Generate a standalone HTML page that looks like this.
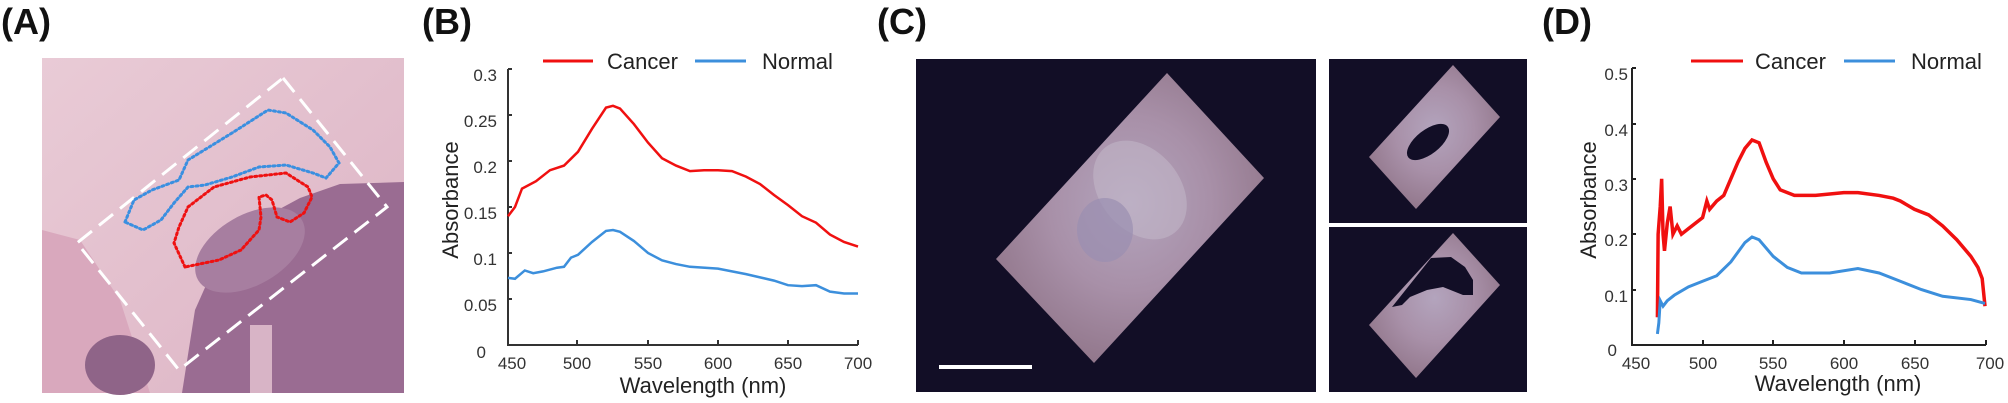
<!DOCTYPE html>
<html><head><meta charset="utf-8"><style>
html,body{margin:0;padding:0;background:#fff;}
svg{display:block;}
text{font-family:"Liberation Sans",Arial,sans-serif;}
</style></head><body>
<svg width="2008" height="403" viewBox="0 0 2008 403" xmlns="http://www.w3.org/2000/svg">
<defs>
<radialGradient id="tis" cx="0.5" cy="0.45" r="0.6">
<stop offset="0" stop-color="#b3a4bd"/><stop offset="0.5" stop-color="#a890a8"/><stop offset="1" stop-color="#8f7488"/>
</radialGradient>
<linearGradient id="pinkA" x1="0" y1="0" x2="1" y2="1">
<stop offset="0" stop-color="#e9cbd6"/><stop offset="1" stop-color="#dcb3c4"/>
</linearGradient>
</defs>

<!-- Panel labels -->
<g font-weight="bold" font-size="36" fill="#111">
<text x="1" y="34">(A)</text>
<text x="422" y="34">(B)</text>
<text x="877" y="34">(C)</text>
<text x="1542" y="34">(D)</text>
</g>

<!-- Panel A -->
<rect x="42" y="58" width="362" height="335" fill="url(#pinkA)"/>
<polygon points="404,182 340,184 300,198 250,225 215,265 195,310 182,393 404,393" fill="#9a6c92"/>
<polygon points="42,230 80,240 120,300 150,393 42,393" fill="#d9a8bd"/>
<ellipse cx="120" cy="365" rx="35" ry="30" fill="#8f6488"/>
<rect x="250" y="325" width="22" height="68" fill="#d8b4c6"/>
<ellipse cx="250" cy="250" rx="60" ry="35" fill="#a77ea0" transform="rotate(-30 250 250)"/>
<polygon points="283,78 387,207 179,370 77,243" fill="none" stroke="#fff" stroke-width="3" stroke-dasharray="18 9"/>
<polygon points="125,222 134,200 152,190 179,180 188,160 232,133 268,110 286,113 313,130 330,147 339,163 326,178 313,173 286,165 259,167 232,177 205,185 188,187 174,203 161,220 143,230" fill="none" stroke="#3a8fe0" stroke-width="3" stroke-dasharray="2 3" stroke-linecap="round"/>
<polygon points="185,267 174,243 179,227 188,207 214,187 250,177 286,173 308,187 312,197 304,213 290,222 277,217 272,200 266,195 259,197 261,217 259,230 241,250 219,260" fill="none" stroke="#ee1111" stroke-width="3" stroke-dasharray="2 3" stroke-linecap="round"/>

<!-- Panel B -->
<g stroke="#333" stroke-width="2" fill="none">
<polyline points="508,69 508,345 858,345"/>
<line x1="577" y1="345" x2="577" y2="340"/><line x1="648" y1="345" x2="648" y2="340"/>
<line x1="718" y1="345" x2="718" y2="340"/><line x1="788" y1="345" x2="788" y2="340"/><line x1="858" y1="345" x2="858" y2="340"/>
<line x1="508" y1="69" x2="512" y2="69"/><line x1="508" y1="115" x2="512" y2="115"/><line x1="508" y1="161" x2="512" y2="161"/>
<line x1="508" y1="207" x2="512" y2="207"/><line x1="508" y1="253" x2="512" y2="253"/><line x1="508" y1="299" x2="512" y2="299"/>
</g>
<g font-size="17" fill="#333" text-anchor="end">
<text x="497" y="81">0.3</text><text x="497" y="127">0.25</text><text x="497" y="173">0.2</text>
<text x="497" y="219">0.15</text><text x="497" y="265">0.1</text><text x="497" y="311">0.05</text><text x="486" y="358">0</text>
</g>
<g font-size="17" fill="#333" text-anchor="middle">
<text x="512" y="369">450</text><text x="577" y="369">500</text><text x="648" y="369">550</text>
<text x="718" y="369">600</text><text x="788" y="369">650</text><text x="858" y="369">700</text>
</g>
<text x="703" y="393" font-size="22" fill="#222" text-anchor="middle">Wavelength (nm)</text>
<text transform="translate(458,200) rotate(-90)" font-size="22" fill="#222" text-anchor="middle">Absorbance</text>
<line x1="543" y1="61" x2="593" y2="61" stroke="#f01010" stroke-width="3"/>
<text x="607" y="69" font-size="22" fill="#222">Cancer</text>
<line x1="695" y1="61" x2="746" y2="61" stroke="#3c8fdc" stroke-width="3"/>
<text x="762" y="69" font-size="22" fill="#222">Normal</text>
<g transform="translate(508,345) scale(1.4,-920)" fill="none">
<polyline vector-effect="non-scaling-stroke" stroke="#f01010" stroke-width="2.5" points="0,0.14 5,0.15 10,0.17 20,0.178 30,0.19 40,0.195 50,0.21 60,0.235 70,0.258 75,0.26 80,0.257 90,0.24 100,0.22 110,0.203 120,0.195 130,0.189 140,0.19 150,0.19 160,0.189 170,0.183 180,0.175 190,0.163 200,0.152 210,0.14 220,0.133 230,0.12 240,0.112 250,0.107"/>
<polyline vector-effect="non-scaling-stroke" stroke="#3c8fdc" stroke-width="2.5" points="0,0.073 5,0.072 12,0.081 18,0.078 25,0.08 35,0.084 40,0.085 45,0.095 50,0.098 60,0.112 70,0.124 75,0.125 80,0.123 90,0.113 100,0.1 110,0.092 120,0.088 130,0.085 150,0.083 170,0.077 190,0.07 200,0.065 210,0.064 220,0.065 230,0.058 240,0.056 250,0.056"/>
</g>

<!-- Panel C -->
<rect x="916" y="59" width="400" height="333" fill="#120e26"/>
<polygon points="1167,73 1264,178 1094,363 996,259" fill="url(#tis)"/>
<ellipse cx="1140" cy="190" rx="40" ry="55" fill="#c6bccb" opacity="0.5" transform="rotate(-40 1140 190)"/>
<ellipse cx="1105" cy="230" rx="28" ry="32" fill="#9a8fb0" opacity="0.7"/>
<rect x="939" y="365" width="93" height="4" fill="#fff"/>
<rect x="1329" y="59" width="198" height="164" fill="#120e26"/>
<rect x="1329" y="227" width="198" height="165" fill="#120e26"/>
<polygon points="1453,65 1500,117 1416,209 1369,157" fill="url(#tis)"/>
<ellipse cx="1428" cy="142" rx="25" ry="12" fill="#120e26" transform="rotate(-38 1428 142)"/>
<polygon points="1453,233 1500,285 1416,378 1369,325" fill="url(#tis)"/>
<polygon points="1431,258 1451,257 1465,267 1473,280 1473,295 1463,295 1443,287 1427,290 1410,297 1402,305 1392,307" fill="#120e26"/>

<!-- Panel D -->
<g stroke="#222" stroke-width="2" fill="none">
<polyline points="1632,68 1632,345 1986,345"/>
<line x1="1703" y1="345" x2="1703" y2="340"/><line x1="1773" y1="345" x2="1773" y2="340"/>
<line x1="1844" y1="345" x2="1844" y2="340"/><line x1="1915" y1="345" x2="1915" y2="340"/><line x1="1986" y1="345" x2="1986" y2="340"/>
<line x1="1632" y1="68" x2="1636" y2="68"/><line x1="1632" y1="124" x2="1636" y2="124"/><line x1="1632" y1="179" x2="1636" y2="179"/>
<line x1="1632" y1="234" x2="1636" y2="234"/><line x1="1632" y1="290" x2="1636" y2="290"/>
</g>
<g font-size="17" fill="#333" text-anchor="end">
<text x="1628" y="80">0.5</text><text x="1628" y="136">0.4</text><text x="1628" y="191">0.3</text>
<text x="1628" y="246">0.2</text><text x="1628" y="302">0.1</text><text x="1617" y="356">0</text>
</g>
<g font-size="17" fill="#333" text-anchor="middle">
<text x="1636" y="369">450</text><text x="1703" y="369">500</text><text x="1773" y="369">550</text>
<text x="1844" y="369">600</text><text x="1915" y="369">650</text><text x="1990" y="369">700</text>
</g>
<text x="1838" y="391" font-size="22" fill="#222" text-anchor="middle">Wavelength (nm)</text>
<text transform="translate(1596,200) rotate(-90)" font-size="22" fill="#222" text-anchor="middle">Absorbance</text>
<line x1="1691" y1="61" x2="1743" y2="61" stroke="#f01010" stroke-width="3"/>
<text x="1755" y="69" font-size="22" fill="#222">Cancer</text>
<line x1="1844" y1="61" x2="1895" y2="61" stroke="#3c8fdc" stroke-width="3"/>
<text x="1911" y="69" font-size="22" fill="#222">Normal</text>
<g transform="translate(1632,345) scale(1.412,-554)" fill="none">
<polyline vector-effect="non-scaling-stroke" stroke="#f01010" stroke-width="3.5" points="18,0.05 18.5,0.2 20,0.25 21,0.3 22,0.2 23,0.17 25,0.22 27,0.25 29,0.2 32,0.215 35,0.2 40,0.21 45,0.22 50,0.23 53,0.26 55,0.245 60,0.26 65,0.27 70,0.3 75,0.33 80,0.355 85,0.37 90,0.365 95,0.33 100,0.3 105,0.28 115,0.27 130,0.27 150,0.275 160,0.275 175,0.27 185,0.265 190,0.26 200,0.245 210,0.235 220,0.215 230,0.19 240,0.16 245,0.14 248,0.12 250,0.07"/>
<polyline vector-effect="non-scaling-stroke" stroke="#3c8fdc" stroke-width="3" points="18,0.02 19,0.04 20,0.08 22,0.07 25,0.08 30,0.09 40,0.105 50,0.115 60,0.125 70,0.15 80,0.185 85,0.195 90,0.19 100,0.16 110,0.14 120,0.13 140,0.13 160,0.138 175,0.13 190,0.115 205,0.1 220,0.088 240,0.082 250,0.075"/>
</g>
</svg>
</body></html>
